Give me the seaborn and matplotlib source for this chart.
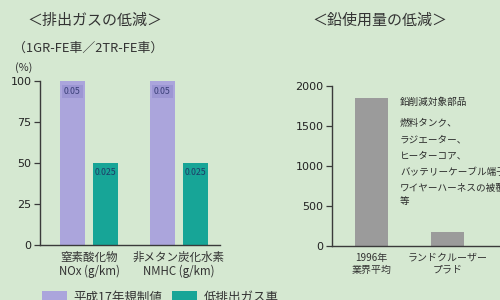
import matplotlib
matplotlib.use("Agg")
import matplotlib.pyplot as plt
import seaborn as sns
import pandas as pd
from matplotlib.patches import Patch

# ---- data ----
left_categories = ["窒素酸化物\nNOx (g/km)", "非メタン炭化水素\nNMHC (g/km)"]
series_names = ["平成17年規制値", "低排出ガス車"]
regulation_pct = [100, 100]
low_emission_pct = [50, 50]
regulation_labels = ["0.05", "0.05"]
low_emission_labels = ["0.025", "0.025"]
left_yticks = [0, 25, 50, 75, 100]

right_categories = ["1996年\n業界平均", "ランドクルーザー\nプラド"]
lead_values = [1850, 175]
right_yticks = [0, 500, 1000, 1500, 2000]
note_lines = ["鉛削減対象部品", "燃料タンク、", "ラジエーター、", "ヒーターコア、",
              "バッテリーケーブル端子", "ワイヤーハーネスの被覆", "等"]

BG = "#d5e8d1"
PURPLE = "#aba5dc"
TEAL = "#17a597"
GRAY = "#9b9b9b"
AX = "#3a3a3a"

sns.set_theme(style="white")
plt.rcParams["font.family"] = ["Noto Sans CJK JP", "DejaVu Sans"]

fig = plt.figure(figsize=(5, 3), dpi=100)
fig.patch.set_facecolor(BG)


def style_axis(ax):
    ax.set_facecolor(BG)
    ax.set_xlabel("")
    ax.set_ylabel("")
    for s in ["top", "right"]:
        ax.spines[s].set_visible(False)
    for s in ["left", "bottom"]:
        ax.spines[s].set_color(AX)
        ax.spines[s].set_linewidth(1.0)
    ax.tick_params(axis="y", left=True, length=4, width=0.9, color=AX,
                   labelcolor="#222222", pad=2)
    for lab in ax.get_yticklabels():
        lab.set_fontfamily("DejaVu Sans")
        lab.set_fontsize(8)


# ---- left panel ----
axL = fig.add_axes([0.08, 0.1833, 0.36, 0.5467])
dfL = pd.DataFrame({
    "cat": left_categories * 2,
    "series": [series_names[0]] * 2 + [series_names[1]] * 2,
    "value": regulation_pct + low_emission_pct,
})
sns.barplot(data=dfL, x="cat", y="value", hue="series", order=left_categories,
            hue_order=series_names, palette=[PURPLE, TEAL], width=0.733, gap=0.24,
            saturation=1, ax=axL, legend=False, edgecolor="none", linewidth=0)
axL.set_ylim(0, 100)
axL.set_xlim(-0.544, 1.456)
axL.set_yticks(left_yticks)
style_axis(axL)
axL.tick_params(axis="x", bottom=False, labelsize=8.3, labelcolor="#333333", pad=-2)
for lab in axL.get_xticklabels():
    lab.set_linespacing(1.15)

labels_all = regulation_labels + low_emission_labels
for i, (patch, txt) in enumerate(zip(axL.patches, labels_all)):
    cx = patch.get_x() + patch.get_width() / 2
    top = patch.get_height()
    if i < len(regulation_labels):
        axL.text(cx, top - 6.5, txt, ha="center", va="center", fontsize=6.3,
                 color="#3a3f78",
                 bbox=dict(boxstyle="square,pad=0.2", fc="#9c96d3", ec="none"))
    else:
        axL.text(cx, top - 6, txt, ha="center", va="center", fontsize=6.3,
                 color="#1f3a66")

# ---- right panel ----
axR = fig.add_axes([0.664, 0.18, 0.34, 0.533])
dfR = pd.DataFrame({"cat": right_categories, "value": lead_values})
sns.barplot(data=dfR, x="cat", y="value", order=right_categories, color=GRAY,
            width=0.44, saturation=1, ax=axR, edgecolor="none", linewidth=0)
axR.set_ylim(0, 2000)
axR.set_xlim(-0.52, 1.72)
axR.set_yticks(right_yticks)
style_axis(axR)
axR.tick_params(axis="x", bottom=False, labelsize=7.2, labelcolor="#333333", pad=-1)
for lab in axR.get_xticklabels():
    lab.set_linespacing(1.25)

note_y = [0.66, 0.59, 0.533, 0.48, 0.427, 0.373, 0.327]
for y, line in zip(note_y, note_lines):
    fig.text(0.80, y, line, fontsize=6.9, color="#2a2a2a", ha="left", va="center")

# ---- titles ----
fig.text(0.19, 0.93, "＜排出ガスの低減＞", fontsize=10.8, color="#333333", ha="center", va="center")
fig.text(0.026, 0.84, "（1GR-FE車／2TR-FE車）", fontsize=9.3, color="#333333", ha="left", va="center")
fig.text(0.03, 0.775, "(%)", fontsize=7.8, color="#333333", ha="left", va="center")
fig.text(0.76, 0.93, "＜鉛使用量の低減＞", fontsize=10.8, color="#333333", ha="center", va="center")

# ---- legend ----
handles = [Patch(facecolor=PURPLE, edgecolor="none"), Patch(facecolor=TEAL, edgecolor="none")]
fig.legend(handles, series_names, loc="upper left", bbox_to_anchor=(0.084, 0.03),
           ncol=2, frameon=False, fontsize=9, handlelength=2.0, handleheight=1.0,
           columnspacing=0.8, handletextpad=0.5, borderaxespad=0, borderpad=0,
           labelcolor="#333333")

fig.savefig("out.png", dpi=100, facecolor=BG)
